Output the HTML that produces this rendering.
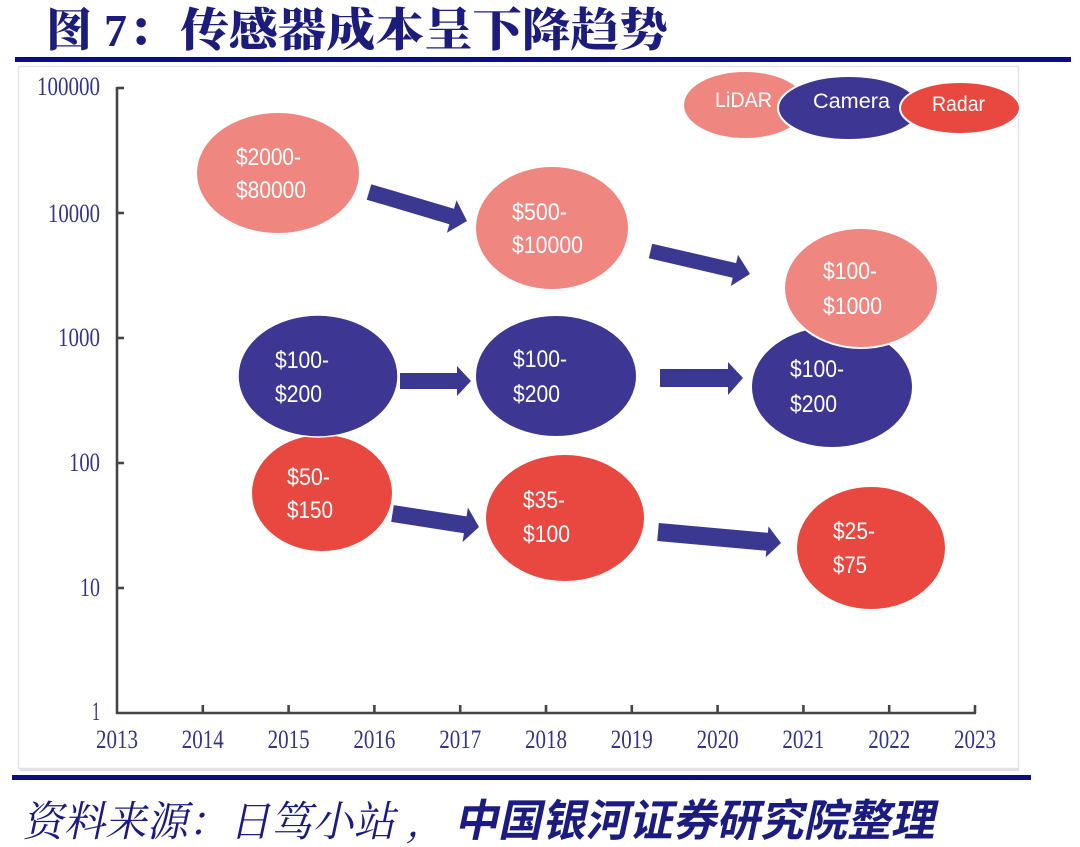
<!DOCTYPE html>
<html>
<head>
<meta charset="utf-8">
<style>
  html,body{margin:0;padding:0;background:#fff;}
  body{width:1080px;height:847px;overflow:hidden;}
  svg{display:block;}
  .yl{font-family:"Liberation Serif",serif;font-size:26px;fill:#34348a;}
  .bt{font-family:"Liberation Sans",sans-serif;font-size:24px;fill:#ffffff;}
  .lg{font-family:"Liberation Sans",sans-serif;font-size:21px;fill:#ffffff;}
</style>
</head>
<body>
<svg width="1080" height="847" viewBox="0 0 1080 847" xmlns="http://www.w3.org/2000/svg">
  <!-- Title -->
  <g font-family="'Noto Serif CJK SC','Noto Sans CJK SC',serif" font-weight="900" fill="#1c1c7c" font-size="46">
    <text x="46" y="46">图</text>
    <text x="104" y="46" font-family="'Liberation Serif',serif" font-weight="700">7</text>
    <text x="128" y="46">：</text>
    <text x="180" y="46" textLength="488" lengthAdjust="spacingAndGlyphs">传感器成本呈下降趋势</text>
  </g>
  <!-- top rule -->
  <rect x="15" y="57" width="1056" height="5" fill="#0c0c85"/>

  <!-- chart frame -->
  <rect x="18.5" y="66.5" width="1000" height="702" fill="#ffffff" stroke="#e4e4e4" stroke-width="1.5"/>
  <line x1="20" y1="770" x2="1019" y2="770" stroke="#e0e0e0" stroke-width="2"/>

  <!-- axes -->
  <g stroke="#454545" stroke-width="2.6" fill="none">
    <line x1="117" y1="87" x2="117" y2="714"/>
    <line x1="116" y1="713" x2="976" y2="713"/>
    <line x1="117" y1="88" x2="124" y2="88"/>
    <line x1="117" y1="213" x2="124" y2="213"/>
    <line x1="117" y1="338" x2="124" y2="338"/>
    <line x1="117" y1="463" x2="124" y2="463"/>
    <line x1="117" y1="588" x2="124" y2="588"/>
    <line x1="202.8" y1="713" x2="202.8" y2="705"/>
    <line x1="288.6" y1="713" x2="288.6" y2="705"/>
    <line x1="374.4" y1="713" x2="374.4" y2="705"/>
    <line x1="460.2" y1="713" x2="460.2" y2="705"/>
    <line x1="546" y1="713" x2="546" y2="705"/>
    <line x1="631.8" y1="713" x2="631.8" y2="705"/>
    <line x1="717.6" y1="713" x2="717.6" y2="705"/>
    <line x1="803.4" y1="713" x2="803.4" y2="705"/>
    <line x1="889.2" y1="713" x2="889.2" y2="705"/>
    <line x1="975" y1="713" x2="975" y2="705"/>
  </g>

  <!-- y labels -->
  <g class="yl" text-anchor="end">
    <text x="100" y="95" textLength="63" lengthAdjust="spacingAndGlyphs">100000</text>
    <text x="100" y="222" textLength="52" lengthAdjust="spacingAndGlyphs">10000</text>
    <text x="100" y="346" textLength="42" lengthAdjust="spacingAndGlyphs">1000</text>
    <text x="100" y="471" textLength="31" lengthAdjust="spacingAndGlyphs">100</text>
    <text x="100" y="596" textLength="20" lengthAdjust="spacingAndGlyphs">10</text>
    <text x="100" y="720" textLength="8" lengthAdjust="spacingAndGlyphs">1</text>
  </g>
  <!-- x labels -->
  <g class="yl" text-anchor="middle" font-size="27">
    <text x="117" y="748" textLength="42" lengthAdjust="spacingAndGlyphs">2013</text>
    <text x="202.8" y="748" textLength="42" lengthAdjust="spacingAndGlyphs">2014</text>
    <text x="288.6" y="748" textLength="42" lengthAdjust="spacingAndGlyphs">2015</text>
    <text x="374.4" y="748" textLength="42" lengthAdjust="spacingAndGlyphs">2016</text>
    <text x="460.2" y="748" textLength="42" lengthAdjust="spacingAndGlyphs">2017</text>
    <text x="546" y="748" textLength="42" lengthAdjust="spacingAndGlyphs">2018</text>
    <text x="631.8" y="748" textLength="42" lengthAdjust="spacingAndGlyphs">2019</text>
    <text x="717.6" y="748" textLength="42" lengthAdjust="spacingAndGlyphs">2020</text>
    <text x="803.4" y="748" textLength="42" lengthAdjust="spacingAndGlyphs">2021</text>
    <text x="889.2" y="748" textLength="42" lengthAdjust="spacingAndGlyphs">2022</text>
    <text x="975" y="748" textLength="42" lengthAdjust="spacingAndGlyphs">2023</text>
  </g>

  <!-- arrows -->
  <g fill="#3b3891">
    <polygon points="371.3,184.3 454.0,208.8 456.5,200.2 467,221 446.9,232.8 449.4,224.2 366.7,199.7"/>
    <polygon points="652.2,243.7 736.1,263.1 738.0,254.8 750,274 730.8,286.0 732.7,277.7 648.8,258.3"/>
    <polygon points="400,373 457,373 457,366 471,381 457,396 457,389 400,389"/>
    <polygon points="660,369 728,369 728,362 743,378 728,395 728,387 660,387"/>
    <polygon points="393.8,505.1 466.5,516.4 467.9,507.5 479,527 462.5,542.1 463.9,533.2 391.2,521.9"/>
    <polygon points="658.8,523.0 767.9,532.8 768.5,526.4 781,543 765.7,557.2 766.3,550.8 657.2,541.0"/>
  </g>

  <!-- bubbles -->
  <!-- Radar -->
  <ellipse cx="322" cy="493" rx="70" ry="58" fill="#e8483f"/>
  <ellipse cx="565" cy="518" rx="79" ry="63" fill="#e8483f"/>
  <ellipse cx="871" cy="548" rx="74" ry="61" fill="#e8483f"/>
  <!-- Camera -->
  <ellipse cx="318" cy="376" rx="80" ry="61" fill="#3d3793" stroke="#ffffff" stroke-width="1.5"/>
  <ellipse cx="556" cy="376" rx="80" ry="60" fill="#3d3793"/>
  <ellipse cx="832" cy="387" rx="80" ry="60" fill="#3d3793"/>
  <!-- LiDAR -->
  <ellipse cx="278" cy="173" rx="81" ry="60" fill="#ef8680"/>
  <ellipse cx="552" cy="228" rx="76" ry="61" fill="#ef8680"/>
  <ellipse cx="861" cy="288" rx="77" ry="60" fill="#ef8680" stroke="#ffffff" stroke-width="2"/>

  <!-- bubble text -->
  <g class="bt">
    <text x="236" y="165" textLength="65" lengthAdjust="spacingAndGlyphs">$2000-</text>
    <text x="236" y="198" textLength="70" lengthAdjust="spacingAndGlyphs">$80000</text>
    <text x="512" y="220" textLength="55" lengthAdjust="spacingAndGlyphs">$500-</text>
    <text x="512" y="253" textLength="71" lengthAdjust="spacingAndGlyphs">$10000</text>
    <text x="823" y="279" textLength="54" lengthAdjust="spacingAndGlyphs">$100-</text>
    <text x="823" y="314" textLength="59" lengthAdjust="spacingAndGlyphs">$1000</text>

    <text x="275" y="368" textLength="54" lengthAdjust="spacingAndGlyphs">$100-</text>
    <text x="275" y="402" textLength="47" lengthAdjust="spacingAndGlyphs">$200</text>
    <text x="513" y="367" textLength="54" lengthAdjust="spacingAndGlyphs">$100-</text>
    <text x="513" y="402" textLength="47" lengthAdjust="spacingAndGlyphs">$200</text>
    <text x="790" y="377" textLength="54" lengthAdjust="spacingAndGlyphs">$100-</text>
    <text x="790" y="412" textLength="47" lengthAdjust="spacingAndGlyphs">$200</text>

    <text x="287" y="485" textLength="43" lengthAdjust="spacingAndGlyphs">$50-</text>
    <text x="287" y="518" textLength="46" lengthAdjust="spacingAndGlyphs">$150</text>
    <text x="523" y="508" textLength="42" lengthAdjust="spacingAndGlyphs">$35-</text>
    <text x="523" y="542" textLength="47" lengthAdjust="spacingAndGlyphs">$100</text>
    <text x="833" y="539" textLength="42" lengthAdjust="spacingAndGlyphs">$25-</text>
    <text x="833" y="573" textLength="34" lengthAdjust="spacingAndGlyphs">$75</text>
  </g>

  <!-- legend -->
  <ellipse cx="745" cy="105" rx="61" ry="33" fill="#ef8680"/>
  <ellipse cx="849" cy="108" rx="71" ry="32" fill="#3d3793" stroke="#ffffff" stroke-width="2"/>
  <ellipse cx="960" cy="108" rx="60" ry="26" fill="#e8483f" stroke="#ffffff" stroke-width="2"/>
  <g class="lg">
    <text x="715" y="107" textLength="57" lengthAdjust="spacingAndGlyphs">LiDAR</text>
    <text x="813" y="108" textLength="77" lengthAdjust="spacingAndGlyphs">Camera</text>
    <text x="932" y="111" textLength="53" lengthAdjust="spacingAndGlyphs">Radar</text>
  </g>

  <!-- bottom rule -->
  <rect x="12" y="775" width="1019" height="5" fill="#0c0c85"/>

  <!-- footer -->
  <g fill="#1b1b80" transform="skewX(-12)">
    <text x="200" y="836" font-family="'Noto Serif CJK SC','Noto Sans CJK SC',serif" font-weight="400" font-size="42" textLength="397" lengthAdjust="spacingAndGlyphs">资料来源：日笃小站 ,</text>
    <text x="632" y="836" font-family="'Noto Sans CJK SC',sans-serif" font-weight="700" font-size="44" textLength="480" lengthAdjust="spacingAndGlyphs">中国银河证券研究院整理</text>
  </g>
</svg>
</body>
</html>
